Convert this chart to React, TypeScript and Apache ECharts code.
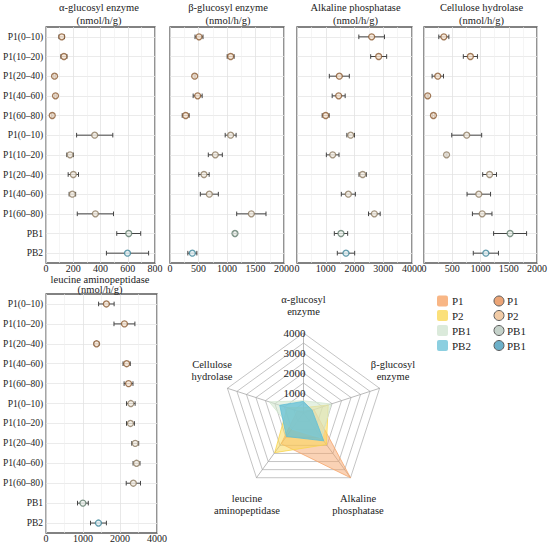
import React, { useEffect, useRef } from "react";
import * as echarts from "echarts";

const FONT = "Liberation Serif";

// ---------- data ----------
const categories = [
  "P1(0–10)", "P1(10–20)", "P1(20–40)", "P1(40–60)", "P1(60–80)",
  "P1(0–10)", "P1(10–20)", "P1(20–40)", "P1(40–60)", "P1(60–80)",
  "PB1", "PB2",
];
const groupOfRow = [0, 0, 0, 0, 0, 1, 1, 1, 1, 1, 2, 3];

const alphaMean = [115, 131, 62, 69, 45, 357, 176, 200, 193, 362, 607, 598];
const alphaSd = [20, 22, 6, 6, 6, 133, 24, 38, 24, 133, 88, 155];
const betaMean = [509, 1064, 433, 485, 275, 1064, 795, 596, 690, 1427, 1140, 392];
const betaSd = [70, 61, 10, 79, 61, 96, 123, 91, 158, 257, 25, 79];
const alkMean = [2597, 2841, 1472, 1449, 997, 1867, 1241, 2284, 1786, 2690, 1530, 1704];
const alkSd = [446, 278, 348, 226, 122, 133, 220, 128, 244, 203, 232, 302];
const celMean = [351, 821, 244, 65, 167, 756, 399, 1161, 970, 1030, 1524, 1095];
const celSd = [89, 125, 101, 10, 20, 265, 10, 122, 208, 173, 292, 223];
const leuMean = [1630, 2119, 1365, 2179, 2230, 2292, 2282, 2411, 2446, 2360, 995, 1416];
const leuSd = [210, 283, 60, 98, 120, 116, 107, 94, 94, 193, 146, 215];
const leucineTickLabels = ["0", "1000", "2000", "4000"];

// radar (indicator order: top, upper-left, lower-left, lower-right, upper-right)
const radarIndicators = ["α-glucosyl enzyme", "Cellulose hydrolase", "leucine aminopeptidase", "Alkaline phosphatase", "β-glucosyl enzyme"];
const radarGroups = ["P1", "P2", "PB1", "PB2"];
const radarP1 = [85, 330, 1900, 4000, 550];
const radarP2 = [260, 860, 2450, 1950, 1300];
const radarPB1 = [610, 1800, 1000, 1550, 1450];
const radarPB2 = [580, 1250, 1450, 1720, 450];
const radarValues = [radarP1, radarP2, radarPB1, radarPB2];

const legendLeftLabels = ["P1", "P2", "PB1", "PB2"];
const legendRightLabels = ["P1", "P2", "PB1", "PB1"];

// ---------- styles / layout ----------
const pointStroke = ["#8a5a32", "#8c7b62", "#5f7b6c", "#3f8599"];
const pointFill = ["#f7e6d4", "#f4eee4", "#edf2ee", "#e2f0f4"];
const radarFill = ["#f6a66b", "#f9d64e", "#d3e7d0", "#62bfd6"];
const radarFillOpacity = [0.5, 0.5, 0.6, 0.75];
const legendSwatch = ["#f8b685", "#fbe07a", "#dbeadb", "#8ccfe0"];
const legendDot = ["#eba476", "#f1cba6", "#c5d2ca", "#6cb0c9"];

const panels = [
  { title: "α-glucosyl enzyme\n(nmol/h/g)", mean: alphaMean, sd: alphaSd, max: 800, interval: 200, labels: null as string[] | null },
  { title: "β-glucosyl enzyme\n(nmol/h/g)", mean: betaMean, sd: betaSd, max: 2000, interval: 500, labels: null },
  { title: "Alkaline phosphatase\n(nmol/h/g)", mean: alkMean, sd: alkSd, max: 4000, interval: 1000, labels: null },
  { title: "Cellulose hydrolase\n(nmol/h/g)", mean: celMean, sd: celSd, max: 2000, interval: 500, labels: null },
  { title: "leucine aminopeptidase\n(nmol/h/g)", mean: leuMean, sd: leuSd, max: 3000, interval: 1000, labels: leucineTickLabels },
];
const boxes = [
  { left: 41, top: 27, width: 114, height: 236 },
  { left: 170, top: 27, width: 114, height: 236 },
  { left: 297, top: 27, width: 115, height: 236 },
  { left: 424, top: 27, width: 113, height: 236 },
  { left: 41, top: 294, width: 116, height: 239 },
];
const titleTops = [0.5, 0.5, 0.5, 0.5, 274];
const titleLineHeights = [13.4, 13.4, 13.4, 13.4, 10.5];
const legendRowY = [301, 315.5, 330.5, 345.5];

function errorBarItem(params: any, api: any) {
  const y = api.value(2);
  const lo = api.coord([api.value(0), y]);
  const hi = api.coord([api.value(1), y]);
  const cap = 2.3;
  const style = { stroke: "#444", lineWidth: 1 };
  return {
    type: "group",
    children: [
      { type: "line", shape: { x1: lo[0], y1: lo[1], x2: hi[0], y2: hi[1] }, style },
      { type: "line", shape: { x1: lo[0], y1: lo[1] - cap, x2: lo[0], y2: lo[1] + cap }, style },
      { type: "line", shape: { x1: hi[0], y1: hi[1] - cap, x2: hi[0], y2: hi[1] + cap }, style },
    ],
  };
}

export default function App() {
  const ref = useRef<HTMLDivElement>(null);
  useEffect(() => {
    if (!ref.current) return;
    const chart = echarts.init(ref.current, null, { renderer: "svg" });

    const series: any[] = [];
    panels.forEach((p, i) => {
      series.push({
        type: "custom",
        xAxisIndex: i,
        yAxisIndex: i,
        renderItem: errorBarItem,
        data: p.mean.map((m, j) => [m - p.sd[j], m + p.sd[j], j]),
        encode: { x: [0, 1], y: 2 },
        z: 2,
        silent: true,
      });
      series.push({
        type: "scatter",
        xAxisIndex: i,
        yAxisIndex: i,
        symbol: "circle",
        symbolSize: 6,
        z: 3,
        data: p.mean.map((m, j) => ({
          value: [m, j],
          itemStyle: {
            color: pointFill[groupOfRow[j]],
            borderColor: pointStroke[groupOfRow[j]],
            borderWidth: 1.3,
          },
        })),
      });
    });

    series.push({
      type: "radar",
      radarIndex: 0,
      symbol: "none",
      z: 2,
      data: radarGroups.map((name, k) => ({
        name,
        value: radarValues[k],
        areaStyle: { color: radarFill[k], opacity: radarFillOpacity[k] },
        lineStyle: { color: radarFill[k], width: 0.8 },
      })),
    });

    const graphic: any[] = [];
    const txtStyle = (text: string, size: number, align: string, va: string) => ({
      text,
      fontSize: size,
      fontFamily: FONT,
      lineHeight: 12,
      fill: "#222",
      align,
      verticalAlign: va,
    });
    legendLeftLabels.forEach((t, k) => {
      graphic.push({
        type: "rect",
        shape: { x: 437, y: legendRowY[k] - 5.5, width: 11, height: 11, r: 2 },
        style: { fill: legendSwatch[k] },
      });
      graphic.push({ type: "text", x: 452, y: legendRowY[k], style: txtStyle(t, 11, "left", "middle") });
    });
    legendRightLabels.forEach((t, k) => {
      graphic.push({
        type: "circle",
        shape: { cx: 499, cy: legendRowY[k], r: 5 },
        style: { fill: legendDot[k], stroke: "#5a5a5a", lineWidth: 1 },
      });
      graphic.push({ type: "text", x: 507, y: legendRowY[k], style: txtStyle(t, 11, "left", "middle") });
    });
    const radarNames = [
      { text: "α-glucosyl\nenzyme", x: 303.5, y: 317, va: "bottom" },
      { text: "Cellulose\nhydrolase", x: 212, y: 358, va: "top" },
      { text: "leucine\naminopeptidase", x: 247, y: 492, va: "top" },
      { text: "Alkaline\nphosphatase", x: 358, y: 492, va: "top" },
      { text: "β-glucosyl\nenzyme", x: 393, y: 358, va: "top" },
    ];
    radarNames.forEach((n) => {
      graphic.push({ type: "text", x: n.x, y: n.y, style: txtStyle(n.text, 10.5, "center", n.va) });
    });

    const option: any = {
      animation: false,
      backgroundColor: "#ffffff",
      textStyle: { fontFamily: FONT },
      title: panels.map((p, i) => ({
        text: p.title,
        left: boxes[i].left + boxes[i].width / 2 + 1,
        top: titleTops[i],
        textAlign: "center",
        padding: 0,
        textStyle: {
          fontSize: 10.5,
          lineHeight: titleLineHeights[i],
          fontWeight: "normal",
          color: "#222",
          fontFamily: FONT,
        },
      })),
      grid: boxes.map((b) => ({
        ...b,
        show: true,
        borderColor: "#5a5a5a",
        borderWidth: 1.3,
        backgroundColor: "rgba(0,0,0,0)",
      })),
      xAxis: panels.map((p, i) => {
        const labels = p.labels;
        return {
          type: "value",
          gridIndex: i,
          min: 0,
          max: p.max,
          interval: p.interval,
          axisLine: { show: false },
          axisTick: { show: false },
          axisLabel: {
            fontSize: 10,
            lineHeight: 10,
            color: "#222",
            fontFamily: FONT,
            margin: 0,
            showMinLabel: true,
            showMaxLabel: true,
            formatter: (v: number) =>
              labels ? labels[Math.round(v / p.interval)] ?? "" : String(v),
          },
          splitLine: { show: true, lineStyle: { color: "#e2e2e2", width: 0.8 } },
          minorTick: { show: false, splitNumber: 2 },
          minorSplitLine: { show: true, lineStyle: { color: "#eeeeee", width: 0.6 } },
        };
      }),
      yAxis: panels.map((p, i) => ({
        type: "category",
        gridIndex: i,
        data: categories,
        inverse: true,
        axisLine: { show: false },
        axisTick: { show: false },
        axisLabel: {
          show: i === 0 || i === 4,
          fontSize: 9.5,
          color: "#222",
          fontFamily: FONT,
          margin: 3,
          interval: 0,
        },
        splitLine: { show: true, interval: 0, alignWithLabel: true, lineStyle: { color: "#e6e6e6", width: 0.8 } },
      })),
      radar: {
        center: [303.5, 413],
        radius: 80,
        startAngle: 90,
        splitNumber: 8,
        shape: "polygon",
        indicator: radarIndicators.map((n, i) => ({
          name: n,
          min: 0,
          max: 4000,
          axisLabel: { show: i === 0 },
        })),
        axisName: { show: false },
        axisLabel: {
          show: false,
          formatter: (v: number) => (v > 0 && v % 1000 === 0 ? String(v) : ""),
          align: "right",
          margin: -2,
          fontSize: 11,
          color: "#222",
          fontFamily: FONT,
        },
        axisTick: { show: false },
        axisLine: { show: true, lineStyle: { color: "#a8a8a8", width: 0.8 } },
        splitLine: { show: true, lineStyle: { color: "#b5b5b5", width: 0.8 } },
        splitArea: { show: false },
      },
      graphic,
      series,
    };
    chart.setOption(option);
    return () => chart.dispose();
  }, []);

  return (
    <div
      ref={ref}
      style={{ position: "fixed", left: 0, top: 0, width: 550, height: 545, background: "#fff" }}
    />
  );
}
